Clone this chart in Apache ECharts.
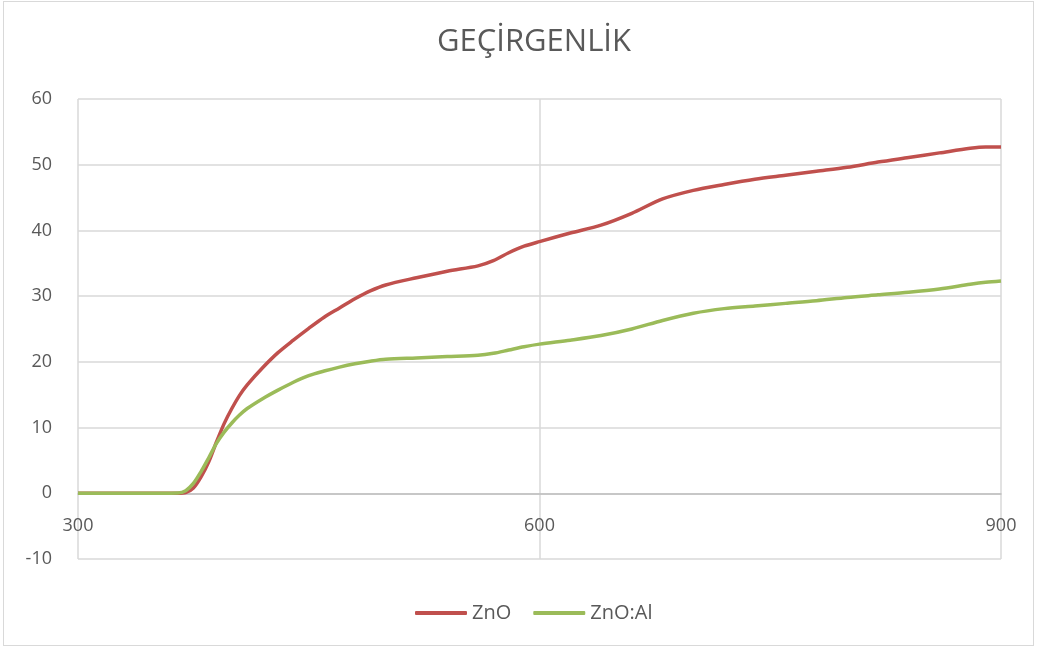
<!DOCTYPE html>
<html>
<head>
<meta charset="utf-8">
<script src="https://cdn.jsdelivr.net/npm/echarts@6/dist/echarts.min.js"></script>
<style>
  html, body { margin: 0; padding: 0; background: #fff; }
  #frame { position: absolute; left: 3px; top: 1px; width: 1031px; height: 645px; border: 1px solid #d9d9d9; box-sizing: border-box; }
  #chart { position: absolute; left: 0; top: 0; width: 1039px; height: 650px; }
</style>
</head>
<body>
<div id="frame"></div>
<div id="chart"></div>
<script>
// Wavelength (nm) and transmittance (%) for the two films
const wavelengths = [300, 340, 365, 370, 375, 380, 385, 390, 395, 400, 405, 410, 420, 430, 440, 450, 460, 470, 480, 490, 500, 520, 540, 560, 570, 580, 590, 600, 620, 640, 660, 680, 700, 720, 740, 760, 780, 800, 820, 840, 860, 880, 890, 900];
const znO   = [0, 0, 0, 0.1, 0.8, 2.5, 4.8, 7.8, 10.6, 12.9, 14.9, 16.5, 19.1, 21.4, 23.3, 25.1, 26.8, 28.2, 29.6, 30.8, 31.7, 32.8, 33.8, 34.6, 35.4, 36.6, 37.6, 38.3, 39.6, 40.8, 42.6, 44.8, 46.1, 47.0, 47.8, 48.4, 49.0, 49.6, 50.4, 51.1, 51.8, 52.5, 52.7, 52.7];
const znOAl = [0, 0, 0.05, 0.4, 1.5, 3.3, 5.4, 7.6, 9.3, 10.7, 11.9, 12.9, 14.4, 15.7, 16.9, 17.9, 18.6, 19.2, 19.7, 20.1, 20.4, 20.6, 20.8, 21.0, 21.3, 21.8, 22.3, 22.7, 23.3, 24.0, 25.0, 26.3, 27.4, 28.1, 28.5, 28.9, 29.3, 29.8, 30.2, 30.6, 31.1, 31.8, 32.1, 32.3];
const seriesNames = ['ZnO', 'ZnO:Al'];
const titleText = 'GEÇİRGENLİK';

const pairs = (ys) => wavelengths.map((x, i) => [x, ys[i]]);
const font = '"Open Sans", "Liberation Sans", sans-serif';

// plot box: 60 at top, -10 at bottom; the x axis sits on the zero line
const gridTop = 99, gridBottom = 91, plotH = 650 - gridTop - gridBottom;
const zeroOffset = plotH * 10 / 70;

const chart = echarts.init(document.getElementById('chart'));
chart.setOption({
  animation: false,
  title: {
    text: titleText,
    left: 432, top: 22,
    textStyle: { fontFamily: font, fontSize: 31, fontWeight: 'normal', color: '#595959' }
  },
  legend: {
    data: seriesNames,
    left: 410, top: 598,
    itemWidth: 52, itemHeight: 4, itemGap: 22,
    icon: 'roundRect',
    textStyle: { fontFamily: font, fontSize: 20, color: '#595959' }
  },
  grid: { left: 78, right: 38, top: gridTop, bottom: gridBottom, containLabel: false },
  xAxis: {
    type: 'value', min: 300, max: 900, interval: 300,
    offset: -zeroOffset,
    axisLine: { onZero: false, lineStyle: { color: '#bfbfbf', width: 1.5 } },
    axisTick: { show: false },
    axisLabel: { margin: 24, fontFamily: font, fontSize: 18, color: '#595959' },
    splitLine: { show: true, lineStyle: { color: '#d9d9d9', width: 1.5 } }
  },
  yAxis: {
    type: 'value', min: -10, max: 60, interval: 10,
    axisLine: { show: false },
    axisTick: { show: false },
    axisLabel: { margin: 26, fontFamily: font, fontSize: 18, color: '#595959' },
    splitLine: { show: true, lineStyle: { color: '#d9d9d9', width: 1.5 } }
  },
  series: [
    { name: seriesNames[0], type: 'line', data: pairs(znO), showSymbol: false, smooth: 0.3,
      lineStyle: { color: '#C0504D', width: 3.5 }, itemStyle: { color: '#C0504D' } },
    { name: seriesNames[1], type: 'line', data: pairs(znOAl), showSymbol: false, smooth: 0.3,
      lineStyle: { color: '#9BBB59', width: 3.5 }, itemStyle: { color: '#9BBB59' } }
  ]
});
</script>
</body>
</html>
